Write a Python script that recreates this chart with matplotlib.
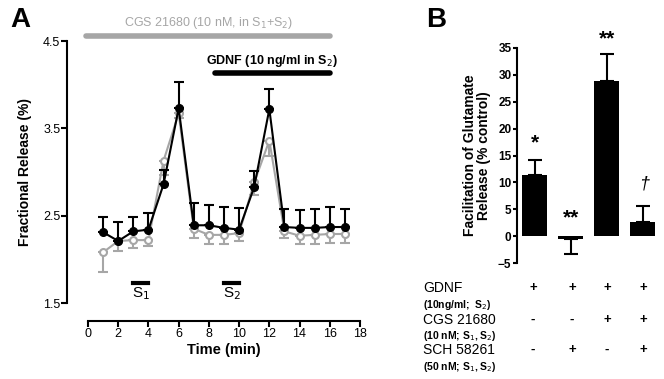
import matplotlib.pyplot as plt
import numpy as np

plt.rcParams['font.family'] = ['Liberation Sans', 'DejaVu Sans']

# Panel A data
time = [1, 2, 3, 4, 5, 6, 7, 8, 9, 10, 11, 12, 13, 14, 15, 16, 17]
gdnf = [2.31, 2.21, 2.32, 2.34, 2.86, 3.73, 2.39, 2.39, 2.36, 2.34, 2.83, 3.72, 2.37, 2.36, 2.36, 2.37, 2.37]
gdnf_err = [0.18, 0.22, 0.17, 0.19, 0.16, 0.30, 0.26, 0.23, 0.24, 0.25, 0.18, 0.23, 0.21, 0.21, 0.22, 0.23, 0.21]
cgs = [2.08, 2.21, 2.22, 2.22, 3.13, 3.67, 2.35, 2.28, 2.28, 2.30, 2.88, 3.36, 2.32, 2.27, 2.28, 2.29, 2.29]
cgs_err = [0.23, 0.12, 0.09, 0.07, 0.17, 0.05, 0.10, 0.11, 0.10, 0.09, 0.14, 0.18, 0.08, 0.10, 0.10, 0.10, 0.10]

# Panel B data
facil = [11.3, -0.6, 28.8, 2.7]
facil_err = [2.9, 2.8, 5.0, 2.9]
signif = ['*', '**', '**', '\u2020']
gdnf_row = ['+', '+', '+', '+']
cgs_row = ['-', '-', '+', '+']
sch_row = ['-', '+', '-', '+']

W, H = 664, 379
fig = plt.figure(figsize=(6.64, 3.79), dpi=100)

# ---------------- Panel A ----------------
axA = fig.add_axes([88 / W, 1 - 303 / H, 272 / W, 262 / H])
axA.errorbar(time, cgs, yerr=[cgs_err, [0] * len(cgs)], color='#a6a6a6', marker='o',
             mfc='white', mec='#a6a6a6', ms=5, mew=1.5, lw=1.5, capsize=3.5, elinewidth=1.5,
             capthick=1.5, zorder=2, clip_on=False)
axA.errorbar(time, gdnf, yerr=[[0] * len(gdnf), gdnf_err], color='black', marker='o',
             mfc='black', mec='black', ms=5.5, lw=1.5, capsize=3.5, elinewidth=1.5,
             capthick=1.5, zorder=3, clip_on=False)
axA.set_xlim(0, 18)
axA.set_ylim(1.5, 4.5)
axA.set_xticks(np.arange(0, 19, 2))
axA.set_yticks([1.5, 2.5, 3.5, 4.5])
axA.set_yticklabels(['1.5', '2.5', '3.5', '4.5'])
for s in ['top', 'right']:
    axA.spines[s].set_visible(False)
axA.spines['left'].set_position(('outward', 15))
axA.spines['bottom'].set_position(('outward', 13))
for s in ['left', 'bottom']:
    axA.spines[s].set_linewidth(1.5)
axA.tick_params(width=1.5, length=4, labelsize=9, pad=1)
axA.set_xlabel('Time (min)', fontsize=10.5, fontweight='bold', labelpad=2)
axA.set_ylabel('Fractional Release (%)', fontsize=10, fontweight='bold', labelpad=8)

# treatment bars
axA.plot([-0.1, 16], [4.56, 4.56], color='#a6a6a6', lw=4, solid_capstyle='round', clip_on=False)
axA.text(8, 4.71, 'CGS 21680 (10 nM, in S$_1$+S$_2$)', color='#a6a6a6', fontsize=9,
         ha='center', va='center')
axA.plot([8.4, 16], [4.13, 4.13], color='black', lw=4, solid_capstyle='round', clip_on=False)
axA.text(12.2, 4.27, 'GDNF (10 ng/ml in S$_2$)', color='black', fontsize=9,
         fontweight='bold', ha='center', va='center')
axA.plot([3, 4], [1.73, 1.73], color='black', lw=3)
axA.plot([9, 10], [1.73, 1.73], color='black', lw=3)
axA.text(3.5, 1.61, 'S$_1$', fontsize=11, ha='center', va='center')
axA.text(9.5, 1.61, 'S$_2$', fontsize=11, ha='center', va='center')

fig.text(20 / W, 1 - 20 / H, 'A', fontsize=20, fontweight='bold', ha='center', va='center')
fig.text(436 / W, 1 - 20 / H, 'B', fontsize=20, fontweight='bold', ha='center', va='center')

# ---------------- Panel B ----------------
xb = np.arange(len(facil))
axB = fig.add_axes([517 / W, 1 - 263 / H, 142 / W, 215 / H])
lo = [e if v < 0 else 0 for v, e in zip(facil, facil_err)]
hi = [e if v >= 0 else 0 for v, e in zip(facil, facil_err)]
axB.bar(xb, facil, width=0.7, color='black')
axB.errorbar(xb, facil, yerr=[lo, hi], fmt='none', ecolor='black', elinewidth=1.5,
             capsize=5, capthick=1.5)
axB.set_xlim(-0.49, 3.45)
axB.set_ylim(-5, 35)
axB.set_yticks(np.arange(-5, 36, 5))
axB.set_xticks([])
for s in ['top', 'right', 'bottom']:
    axB.spines[s].set_visible(False)
axB.spines['left'].set_linewidth(1.5)
axB.tick_params(axis='y', width=1.5, length=3, labelsize=8.5, pad=1)
for lab in axB.get_yticklabels():
    lab.set_fontweight('bold')
axB.set_ylabel('Facilitation of Glutamate\nRelease (% control)', fontsize=10,
               fontweight='bold', labelpad=5, linespacing=1.0)

ann_y = [15.5, 1.6, 34.9, 8.2]
for x, t, y in zip(xb, signif, ann_y):
    if t == '\u2020':
        axB.text(x + 0.05, y, t, fontsize=13, style='italic', ha='center', va='bottom')
    else:
        axB.text(x, y, t, fontsize=15, fontweight='bold', ha='center', va='bottom')

# treatment table
rows = [(288, 'GDNF', 10, 'normal'), (305, '(10ng/ml;  S$_2$)', 7.5, 'bold'),
        (320, 'CGS 21680', 10, 'normal'), (336, '(10 nM; S$_1$, S$_2$)', 7.5, 'bold'),
        (350, 'SCH 58261', 10, 'normal'), (367, '(50 nM; S$_1$, S$_2$)', 7.5, 'bold')]
for y, t, fs, fw in rows:
    fig.text(423 / W, 1 - y / H, t, fontsize=fs, fontweight=fw, ha='left', va='center')
sign_x = [533, 572, 607, 643]
for y, row in zip([288, 320, 350], [gdnf_row, cgs_row, sch_row]):
    for x, s in zip(sign_x, row):
        fig.text(x / W, 1 - y / H, s, fontsize=9.5, fontweight='bold', ha='center', va='center')

fig.savefig('out.png', dpi=100)
